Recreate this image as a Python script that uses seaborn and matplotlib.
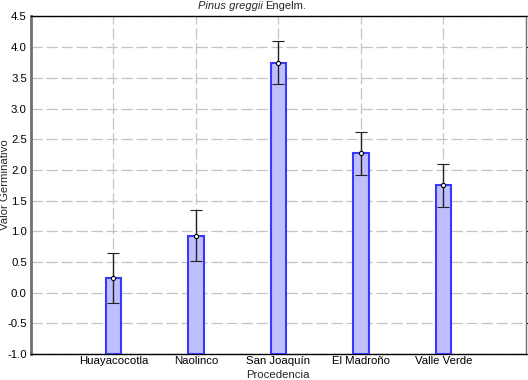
import matplotlib
matplotlib.use("Agg")
import matplotlib.pyplot as plt
import seaborn as sns
import numpy as np

# ---- Data ----------------------------------------------------####

procedencias = ["Huayacocotla", "Naolinco", "San Joaquín", "El Madroño", "Valle Verde"]
valor_germinativo = [0.24, 0.93, 3.75, 2.27, 1.75]
error = [0.41, 0.41, 0.35, 0.35, 0.35]
y_ticks = [-1.0, -0.5, 0.0, 0.5, 1.0, 1.5, 2.0, 2.5, 3.0, 3.5, 4.0, 4.5]

# ---- Plot ----------------------------------------------------####

sns.set_style("white")
plt.rcParams['font.family'] = ['Liberation Sans', 'DejaVu Sans']

fig = plt.figure(figsize=(5.28, 3.8), dpi=100)
ax = fig.add_axes([0.0587, 0.0684, 0.9375, 0.8882])

x = np.arange(len(procedencias))
base = -1.0
ax.bar(x, np.array(valor_germinativo) - base, bottom=base, width=0.19,
       color="#bfbfff", edgecolor="#3838ff", linewidth=1.5, zorder=3)
ax.errorbar(x, valor_germinativo, yerr=error, fmt="o", color="black",
            ecolor="#222222", elinewidth=1.0, capsize=4, capthick=1.0,
            markersize=3, markerfacecolor="white", markeredgecolor="black",
            markeredgewidth=0.8, zorder=4)

ax.set_xlim(-1, 5)
ax.set_ylim(-1.0, 4.5)
ax.set_xticks(x)
ax.set_xticklabels(procedencias, fontsize=8.2)
ax.set_yticks(y_ticks)
ax.set_yticklabels([f"{v:.1f}" for v in y_ticks], fontsize=8.2)
ax.tick_params(axis="x", direction="in", length=3, pad=1.5)
ax.tick_params(axis="y", direction="out", length=2, pad=1, right=True)
ax.tick_params(axis="both", which="both", colors="black")

ax.grid(True, color="#c4c4c4", linestyle=(0, (9, 3)), linewidth=0.9, zorder=0)

for side in ["top", "bottom"]:
    ax.spines[side].set_color("black")
    ax.spines[side].set_linewidth(1.0)
ax.spines["left"].set_color("#707070")
ax.spines["left"].set_linewidth(2.0)
ax.spines["right"].set_color("#707070")
ax.spines["right"].set_linewidth(1.0)

# axis labels placed as in the reference
fig.text(278 / 528, 1 - 375.5 / 380, "Procedencia", fontsize=8.2, ha="center", va="center")
fig.text(5 / 528, 1 - 185 / 380, "Valor Germinativo", fontsize=8.2, rotation=90,
         ha="center", va="center")

# title with italic species name
fig.text(263 / 528, 1 - 6 / 380, "Pinus greggii", style="italic", fontsize=8,
         ha="right", va="center")
fig.text(265 / 528, 1 - 6 / 380, "Engelm.", fontsize=8, ha="left", va="center")

fig.savefig("out.png", dpi=100)
